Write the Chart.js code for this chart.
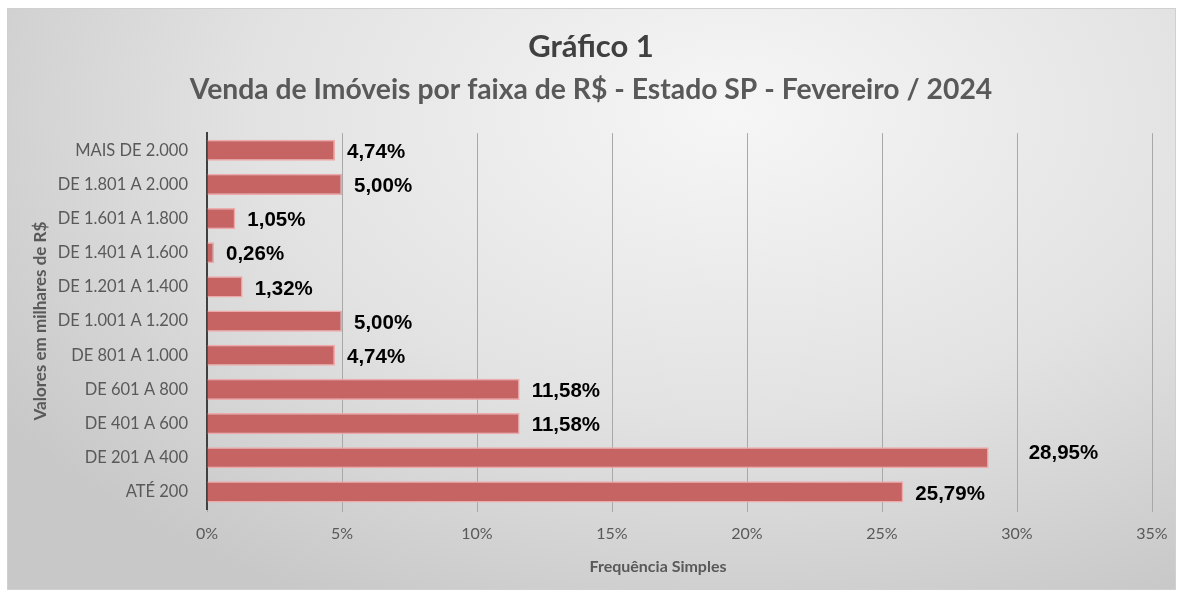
<!DOCTYPE html>
<html>
<head>
<meta charset="utf-8">
<script src="https://cdn.jsdelivr.net/npm/chart.js@4.4.1/dist/chart.umd.min.js"></script>
<style>
  html, body { margin: 0; padding: 0; background: #fff; }
  #box {
    position: absolute; left: 7px; top: 8px; width: 1169px; height: 582px;
    border: 1px solid #d0d0d0; box-sizing: border-box;
    background: radial-gradient(ellipse 75% 95% at 62% 18%, #f6f6f6 0%, #e2e2e2 55%, #c8c8c8 100%);
  }
  canvas { display: block; }
</style>
</head>
<body>
<div id="box"><canvas id="chart"></canvas></div>
<script>
const CATEGORIES = [
  'MAIS DE 2.000', 'DE 1.801 A 2.000', 'DE 1.601 A 1.800', 'DE 1.401 A 1.600',
  'DE 1.201 A 1.400', 'DE 1.001 A 1.200', 'DE 801 A 1.000', 'DE 601 A 800',
  'DE 401 A 600', 'DE 201 A 400', 'ATÉ 200',
];
const VALUES = [4.74, 5.00, 1.05, 0.26, 1.32, 5.00, 4.74, 11.58, 11.58, 28.95, 25.79];
const X_MAX = 35;
const X_STEP = 5;

const TITLE = 'Gráfico 1';
const SUBTITLE = 'Venda de Imóveis por faixa de R$ - Estado SP - Fevereiro / 2024';
const X_TITLE = 'Frequência Simples';
const Y_TITLE = 'Valores em milhares de R$';

const FONT = 'Lato, "Open Sans", sans-serif';
const fmt = v => v.toFixed(2).replace('.', ',') + '%';

// value labels next to each bar
const barLabels = {
  id: 'barLabels',
  afterDatasetsDraw(chart) {
    const { ctx } = chart;
    const meta = chart.getDatasetMeta(0);
    ctx.save();
    ctx.font = 'bold 20.5px "Liberation Sans", Arial, sans-serif';
    ctx.fillStyle = '#000';
    ctx.textBaseline = 'middle';
    meta.data.forEach((bar, i) => {
      // the biggest label was nudged away from its bar in the original
      const dx = i === 9 ? 40 : 12;
      const dy = i === 9 ? -4 : 2;
      ctx.fillText(fmt(VALUES[i]), bar.x + dx, bar.y + dy);
    });
    ctx.restore();
  },
};

// x axis title sits a bit left of the plot centre in the original
const xTitle = {
  id: 'xTitle',
  afterDraw(chart) {
    const { ctx } = chart;
    ctx.save();
    ctx.font = 'bold 16px ' + FONT;
    ctx.fillStyle = '#595959';
    ctx.textAlign = 'center';
    ctx.textBaseline = 'middle';
    ctx.fillText(X_TITLE, 650, 558);
    ctx.restore();
  },
};

const canvas = document.getElementById('chart');
canvas.width = 1167;
canvas.height = 580;

new Chart(canvas.getContext('2d'), {
  type: 'bar',
  data: {
    labels: CATEGORIES,
    datasets: [{
      data: VALUES,
      backgroundColor: '#c66363',
      borderColor: '#eeaaaa',
      borderWidth: 1.5,
      borderSkipped: 'left',
      categoryPercentage: 1,
      barPercentage: 0.62,
    }],
  },
  options: {
    indexAxis: 'y',
    responsive: false,
    animation: false,
    devicePixelRatio: 1,
    layout: { padding: { left: 22, right: 23, top: 0, bottom: 0 } },
    plugins: {
      legend: { display: false },
      tooltip: { enabled: false },
      title: {
        display: true,
        text: TITLE,
        color: '#404040',
        font: { family: FONT, size: 31, weight: 'bold' },
        padding: { top: 19, bottom: 6 },
      },
      subtitle: {
        display: true,
        text: SUBTITLE,
        color: '#595959',
        font: { family: FONT, size: 28.3, weight: 'bold' },
        padding: { top: 2, bottom: 26 },
      },
    },
    scales: {
      x: {
        min: 0,
        max: X_MAX,
        ticks: {
          stepSize: X_STEP,
          color: '#595959',
          font: { family: FONT, size: 16 },
          padding: 12,
          callback: v => v + '%',
        },
        grid: {
          color: '#a8a8a8',
          lineWidth: 1,
          tickLength: 3,
          drawTicks: true,
        },
        border: { display: false },
        afterFit(scale) {
          scale.height = 80;
          scale.paddingRight = 0;
        },
      },
      y: {
        ticks: {
          color: '#595959',
          font: { family: FONT, size: 16.5 },
          padding: 11,
        },
        grid: { display: false },
        border: { display: true, color: '#404040', width: 2 },
        title: {
          display: true,
          text: Y_TITLE,
          color: '#595959',
          font: { family: FONT, size: 17, weight: 'bold' },
          padding: { top: 0, bottom: 4 },
        },
        afterFit(scale) { scale.width = 177; },
      },
    },
  },
  plugins: [barLabels, xTitle],
});
</script>
</body>
</html>
